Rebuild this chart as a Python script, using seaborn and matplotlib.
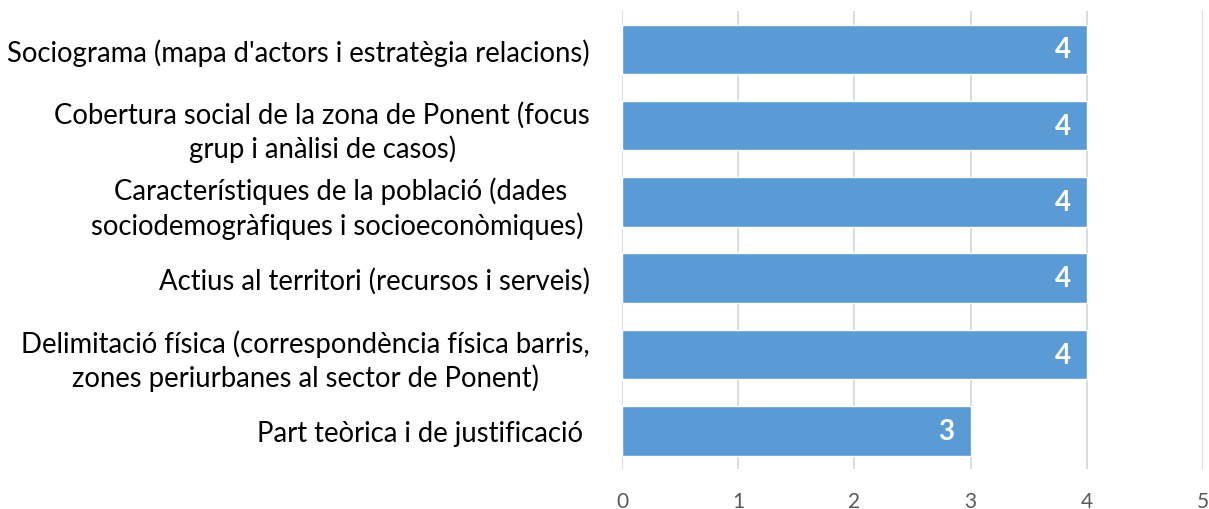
import pandas as pd
import matplotlib.pyplot as plt
import seaborn as sns

# chart data, top to bottom
categories = [
    "Sociograma (mapa d'actors i estratègia relacions)",
    "Cobertura social de la zona de Ponent (focus\ngrup i anàlisi de casos)",
    "Característiques de la població (dades\nsociodemogràfiques i socioeconòmiques) ",
    "Actius al territori (recursos i serveis)",
    "Delimitació física (correspondència física barris,\nzones periurbanes al sector de Ponent)",
    "Part teòrica i de justificació ",
]
values = [4, 4, 4, 4, 4, 3]
x_ticks = [0, 1, 2, 3, 4, 5]

bar_color = "#5B9BD5"

sns.set_theme(style="white")
plt.rcParams['font.family'] = ['Lato', 'DejaVu Sans']

df = pd.DataFrame({'cat': categories, 'val': values})

fig = plt.figure(figsize=(12.09, 5.10), dpi=100)
ax = fig.add_axes([0.5145, 0.0784, 0.4805, 0.8976])

sns.barplot(data=df, x='val', y='cat', color=bar_color, width=0.65,
            saturation=1, ax=ax, zorder=2)

ax.set_xlim(0, 5)
ax.set_ylim(len(categories) - 0.5, -0.5)
ax.set_xticks(x_ticks)
ax.set_xticklabels([str(t) for t in x_ticks], color='#595959', fontsize=15)
ax.tick_params(axis='x', length=0, pad=16)
ax.tick_params(axis='y', length=0, pad=23, labelsize=19.8, labelcolor='#000000')
for lbl in ax.get_yticklabels():
    lbl.set_multialignment('center')
    lbl.set_linespacing(1.3)

ax.xaxis.grid(True, color='#D9D9D9', linewidth=1.3, zorder=0)
ax.yaxis.grid(False)
for s in ax.spines.values():
    s.set_visible(False)
ax.set_xlabel('')
ax.set_ylabel('')

# value labels inside bar ends
for i, v in enumerate(values):
    ax.annotate(str(v), xy=(v, i), xytext=(-11.5, 0), textcoords='offset points',
                ha='right', va='center', color='white', fontsize=20,
                fontweight='bold', zorder=3)

fig.savefig('out.png', dpi=100)
plt.close(fig)
